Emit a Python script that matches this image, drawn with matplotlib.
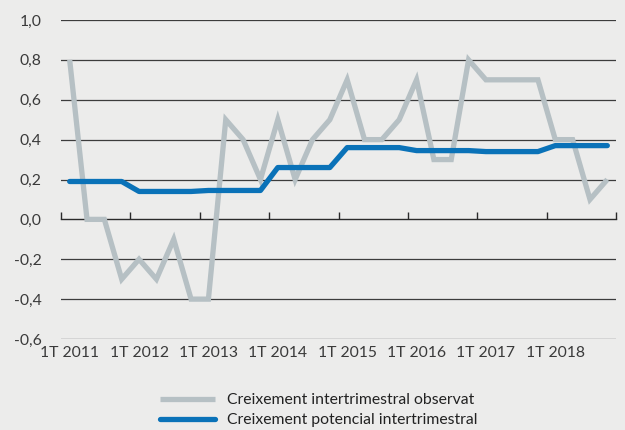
import numpy as np
import matplotlib
matplotlib.use("Agg")
import matplotlib.pyplot as plt
from matplotlib.ticker import FixedLocator, FuncFormatter

# _______________________________________________________________________________
""" data """

years = ["2011", "2012", "2013", "2014", "2015", "2016", "2017", "2018"]
quarter_labels = ["1T {}".format(y) for y in years]

observat = [0.8, 0.0, 0.0, -0.3, -0.2, -0.3, -0.1, -0.4,
            -0.4, 0.5, 0.4, 0.2, 0.5, 0.2, 0.4, 0.5,
            0.7, 0.4, 0.4, 0.5, 0.7, 0.3, 0.3, 0.8,
            0.7, 0.7, 0.7, 0.7, 0.4, 0.4, 0.1, 0.2]

potencial = [0.19, 0.19, 0.19, 0.19, 0.14, 0.14, 0.14, 0.14,
             0.145, 0.145, 0.145, 0.145, 0.26, 0.26, 0.26, 0.26,
             0.36, 0.36, 0.36, 0.36, 0.345, 0.345, 0.345, 0.345,
             0.34, 0.34, 0.34, 0.34, 0.37, 0.37, 0.37, 0.37]

label_obs = "Creixement intertrimestral observat"
label_pot = "Creixement potencial intertrimestral"

# _______________________________________________________________________________
""" plot """

bg = "#ececeb"
txt = "#3a3a3a"
fs = 11.3
plt.rcParams.update({"font.family": ["Lato", "DejaVu Sans"], "font.size": fs})

fig = plt.figure(figsize=(6.25, 4.3), dpi=100, facecolor=bg)
ax = fig.add_axes([61 / 625, 1 - 339 / 430, 555 / 625, 319 / 430])
ax.set_facecolor(bg)

n = len(observat)
x = np.arange(n) + 0.5
ax.plot(x, observat, color="#b6c0c4", lw=3.8, solid_joinstyle="miter",
        solid_capstyle="butt", label=label_obs, zorder=3)
ax.plot(x, potencial, color="#0a72b8", lw=3.8, solid_capstyle="round",
        label=label_pot, zorder=4)

ax.set_xlim(0, n)
ax.set_ylim(-0.6, 1.0)

# horizontal grid (0 is drawn by the axis itself)
yt = np.round(np.arange(-0.6, 1.01, 0.2), 1)
ax.set_yticks(yt)
ax.yaxis.set_major_formatter(FuncFormatter(lambda v, p: "{:.1f}".format(v).replace(".", ",")))
ax.tick_params(axis="y", length=0, pad=14, labelcolor=txt, labelsize=fs)
for v in yt:
    if abs(v) > 1e-9:
        ax.axhline(v, color="#3c3c3c", lw=0.9, zorder=1)

for s in ["left", "right", "top"]:
    ax.spines[s].set_visible(False)
ax.spines["bottom"].set_position(("data", 0))
ax.spines["bottom"].set_color("#2a2a2a")
ax.spines["bottom"].set_linewidth(1.0)
ax.set_xticks(np.arange(0, n + 1, 4))
ax.set_xticklabels([])
ax.tick_params(axis="x", direction="in", length=5, width=1.0, color="#2a2a2a")

sec = ax.secondary_xaxis("bottom")
sec.spines["bottom"].set_visible(False)
sec.xaxis.set_major_locator(FixedLocator(np.arange(0, n, 4) + 0.5))
sec.set_xticklabels(quarter_labels)
sec.tick_params(axis="x", length=0, pad=5, labelcolor=txt, labelsize=fs)

fig.legend(loc="upper left", bbox_to_anchor=(160 / 625, 1 - 393 / 430),
           frameon=False, borderpad=0, borderaxespad=0, handlelength=3.5,
           handletextpad=0.75, labelspacing=0.4, fontsize=fs, labelcolor="#222222")

fig.savefig("out.png", dpi=100, facecolor=bg)
